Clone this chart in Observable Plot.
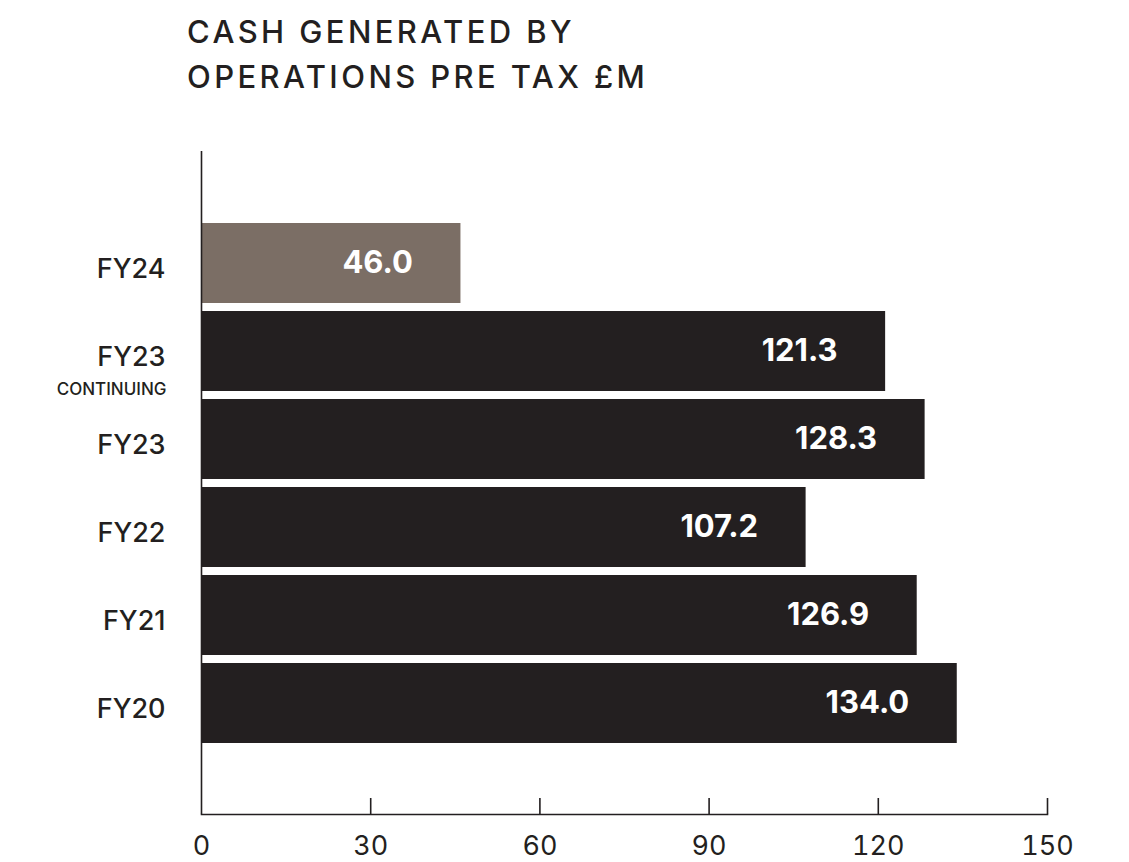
<!DOCTYPE html>
<html><head><meta charset="utf-8">
<script src="https://cdn.jsdelivr.net/npm/d3@7"></script>
<script src="https://cdn.jsdelivr.net/npm/@observablehq/plot@0.6"></script>
<style>
html,body{margin:0;padding:0;background:#fff;}
body{font-family:Inter,"Liberation Sans",sans-serif;color:#231f20;}
#title{height:120px;box-sizing:border-box;padding:9px 0 0 187px;font-size:31px;line-height:45px;letter-spacing:3.4px;font-weight:500;white-space:nowrap;}
#chart svg{display:block;}
</style></head><body>
<div id="title">CASH GENERATED BY<br>OPERATIONS PRE TAX £M</div>
<div id="chart"></div>
<script>
const categories = ["FY24", "FY23 CONTINUING", "FY23", "FY22", "FY21", "FY20"];
const labels = ["FY24", "FY23", "FY23", "FY22", "FY21", "FY20"];
const sublabels = ["", "CONTINUING", "", "", "", ""];
const values = [46.0, 121.3, 128.3, 107.2, 126.9, 134.0];
const kinds = ["current", "prior", "prior", "prior", "prior", "prior"];
const xTicks = [0, 30, 60, 90, 120, 150];

const DARK = "#231f20";
const BROWN = "#7b6e65";

const rows = categories.map((c, i) => ({
  cat: c, label: labels[i], sub: sublabels[i], value: values[i], kind: kinds[i]
}));

const W = 1129, H = 742;
const mTop = 31, mBottom = 48;
const frameH = H - mTop - mBottom;

const chart = Plot.plot({
  width: W,
  height: H,
  marginLeft: 201,
  marginRight: 82,
  marginTop: mTop,
  marginBottom: mBottom,
  style: {fontFamily: "Inter, 'Liberation Sans', sans-serif", color: DARK, background: "#fff"},
  x: {domain: [0, 150], axis: null, label: null},
  y: {domain: categories, padding: 0.095, insetTop: 62, insetBottom: 62, axis: null, label: null},
  color: {domain: ["current", "prior"], range: [BROWN, DARK]},
  marks: [
    Plot.barX(rows, {x: "value", y: "cat", fill: "kind"}),
    Plot.ruleX([0], {stroke: DARK, strokeWidth: 1.6}),
    Plot.frame({anchor: "bottom", stroke: DARK, strokeWidth: 1.6}),
    Plot.ruleX(xTicks.slice(1), {stroke: DARK, strokeWidth: 1.6, insetTop: frameH - 16}),
    Plot.axisX({ticks: xTicks, tickSize: 0, tickPadding: 21, fontSize: 27, tickFormat: d => String(d), fill: DARK, label: null}),
    Plot.text(rows, {frameAnchor: "left", y: "cat", text: "label", textAnchor: "end", dx: -36, dy: 6, fontSize: 27, fontWeight: 500, fill: DARK}),
    Plot.text(rows.filter(d => d.sub), {frameAnchor: "left", y: "cat", text: "sub", textAnchor: "end", dx: -35, dy: 38, fontSize: 17, fontWeight: 500, fill: DARK}),
    Plot.text(rows, {x: "value", y: "cat", text: d => d.value.toFixed(1), textAnchor: "end", dx: -48, fill: "#fff", fontWeight: 700, fontSize: 31})
  ]
});
document.getElementById("chart").appendChild(chart);
</script>
</body></html>
